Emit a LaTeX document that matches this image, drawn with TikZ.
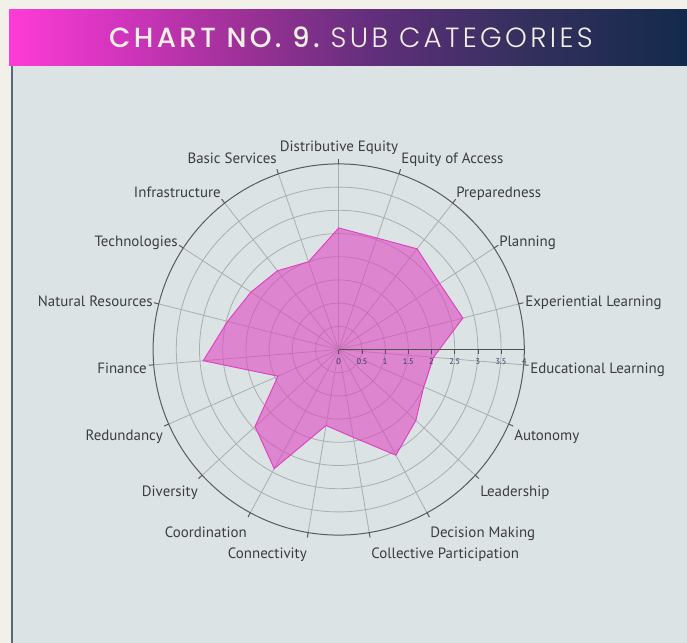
\documentclass[tikz,border=0pt]{standalone}
\usepackage{fontspec}
\setmainfont{PT Sans}
\newfontfamily\hdrlight{Poppins}[UprightFont=* Light, LetterSpace=12]
\newfontfamily\hdrbold{Poppins}[UprightFont=* Medium, LetterSpace=12]
\definecolor{bgcream}{RGB}{242,241,233}
\definecolor{panelfill}{RGB}{220,227,229}
\definecolor{paneledge}{RGB}{86,104,122}
\definecolor{paneltop}{RGB}{150,165,180}
\definecolor{gridgray}{RGB}{170,174,177}
\definecolor{outergray}{RGB}{90,90,90}
\definecolor{labeltext}{RGB}{60,60,60}
\definecolor{ticktext}{RGB}{42,63,95}
\definecolor{hdrtext}{RGB}{242,239,230}
\definecolor{datafill}{RGB}{222,71,191}
\definecolor{dataline}{RGB}{224,64,192}
\pgfdeclarehorizontalshading{hdrshade}{100bp}{%
  rgb(0bp)=(1,0.231,0.839);
  rgb(25bp)=(1,0.231,0.839);
  rgb(32.5bp)=(0.835,0.208,0.749);
  rgb(42.5bp)=(0.608,0.192,0.588);
  rgb(52.5bp)=(0.369,0.184,0.478);
  rgb(62.5bp)=(0.212,0.188,0.373);
  rgb(75bp)=(0.075,0.165,0.294);
  rgb(100bp)=(0.075,0.165,0.294)}
\tikzset{
  gridline/.style={draw=gridgray, line width=0.6pt},
  outerline/.style={draw=outergray, line width=0.75pt},
  axisline/.style={draw=outergray!90!black, line width=0.8pt},
  catlabel/.style={text=labeltext, inner sep=0pt, font=\fontsize{11.2}{13}\selectfont},
  ticklabel/.style={text=ticktext, inner sep=0pt, font=\fontsize{6.2}{7}\selectfont},
  datapoly/.style={fill=datafill, fill opacity=0.6, draw=dataline, draw opacity=1, line width=0.7pt}
}
\begin{document}
\begin{tikzpicture}[x=0.75pt,y=-0.75pt]
\def\U{46.4}
\def\cx{338.7}
\def\cy{349.5}
\useasboundingbox (0,0) rectangle (687,643);
\fill[bgcream] (0,0) rectangle (687,643);
% panel
\fill[panelfill] (11,65) rectangle (690,646);
\draw[paneledge, line width=1.3pt] (11.8,65) -- (11.8,646);
\draw[paneltop, line width=0.8pt] (11,65.5) -- (690,65.5);
% header band
\shade[shading=hdrshade] (9,9) rectangle (687,65);
\node[anchor=base, text=hdrtext, inner sep=0pt] (title) at (351,47.7)
  {\fontsize{20.8}{24}\selectfont\hdrbold CHART NO.\ 9.\hdrlight\ SUB CATEGORIES};
% centre and coordinates
\coordinate (C) at (\cx,\cy);
\foreach \i in {0,...,18}{
  \pgfmathsetmacro{\t}{\i*360/19}
  \coordinate (o\i) at ({\cx+4*\U*sin(\t)},{\cy-4*\U*cos(\t)});
  \coordinate (k\i) at ({\cx+(4*\U+5)*sin(\t)},{\cy-(4*\U+5)*cos(\t)});
}
% grid rings
\foreach \k in {1,...,7}{
  \draw[gridline] (C) circle[radius=\k*\U/2];
}
% spokes
\foreach \i in {0,...,18}{
  \draw[gridline] (C) -- (o\i);
}
% outer ring and ticks
\draw[outerline] (C) circle[radius=4*\U];
\foreach \i in {0,...,18}{
  \draw[outerline] (o\i) -- (k\i);
}
% data polygon
\foreach \v [count=\j from 0] in {2.62,2.54,2.75,2.60,2.76,2.05,2.00,2.26,2.59,1.92,1.66,2.92,2.45,1.43,2.93,2.47,2.26,2.15,2.00}{
  \pgfmathsetmacro{\t}{\j*360/19}
  \coordinate (d\j) at ({\cx+\v*\U*sin(\t)},{\cy-\v*\U*cos(\t)});
}
\path[datapoly] (d0) \foreach \j in {1,...,18}{ -- (d\j) } -- cycle;
% radial axis
\coordinate (a0) at (\cx,\cy);
\coordinate (a8) at ({\cx+4*\U},\cy);
\draw[axisline] (a0) -- (a8);
\foreach \lab [count=\m from 0] in {0,0.5,1,1.5,2,2.5,3,3.5,4}{
  \coordinate (tk\m) at ({\cx+\m*\U/2},\cy);
  \coordinate (tb\m) at ({\cx+\m*\U/2},{\cy+4});
  \draw[axisline, line width=0.6pt] (tk\m) -- (tb\m);
  \node[ticklabel] (tl\m) at ({\cx+\m*\U/2},{\cy+12.5}) {\lab};
}
% category labels
\node[catlabel, anchor=base] (l0) at (339,151.5) {Distributive Equity};
\node[catlabel, anchor=base west] (l1) at (401,163) {Equity of Access};
\node[catlabel, anchor=base west] (l2) at (456,197) {Preparedness};
\node[catlabel, anchor=base west] (l3) at (499,246) {Planning};
\node[catlabel, anchor=base west] (l4) at (525,306) {Experiential Learning};
\node[catlabel, anchor=base west] (l5) at (530,373) {Educational Learning};
\node[catlabel, anchor=base west] (l6) at (514,440) {Autonomy};
\node[catlabel, anchor=base west] (l7) at (480,496) {Leadership};
\node[catlabel, anchor=base west] (l8) at (430,537) {Decision Making};
\node[catlabel, anchor=base west] (l9) at (371,558) {Collective Participation};
\node[catlabel, anchor=base east] (l10) at (307,558) {Connectivity};
\node[catlabel, anchor=base east] (l11) at (247,537) {Coordination};
\node[catlabel, anchor=base east] (l12) at (198,496) {Diversity};
\node[catlabel, anchor=base east] (l13) at (163,440) {Redundancy};
\node[catlabel, anchor=base east] (l14) at (147,373) {Finance};
\node[catlabel, anchor=base east] (l15) at (153,306) {Natural Resources};
\node[catlabel, anchor=base east] (l16) at (178,246) {Technologies};
\node[catlabel, anchor=base east] (l17) at (221,197) {Infrastructure};
\node[catlabel, anchor=base east] (l18) at (277,163) {Basic Services};
\end{tikzpicture}
\end{document}
